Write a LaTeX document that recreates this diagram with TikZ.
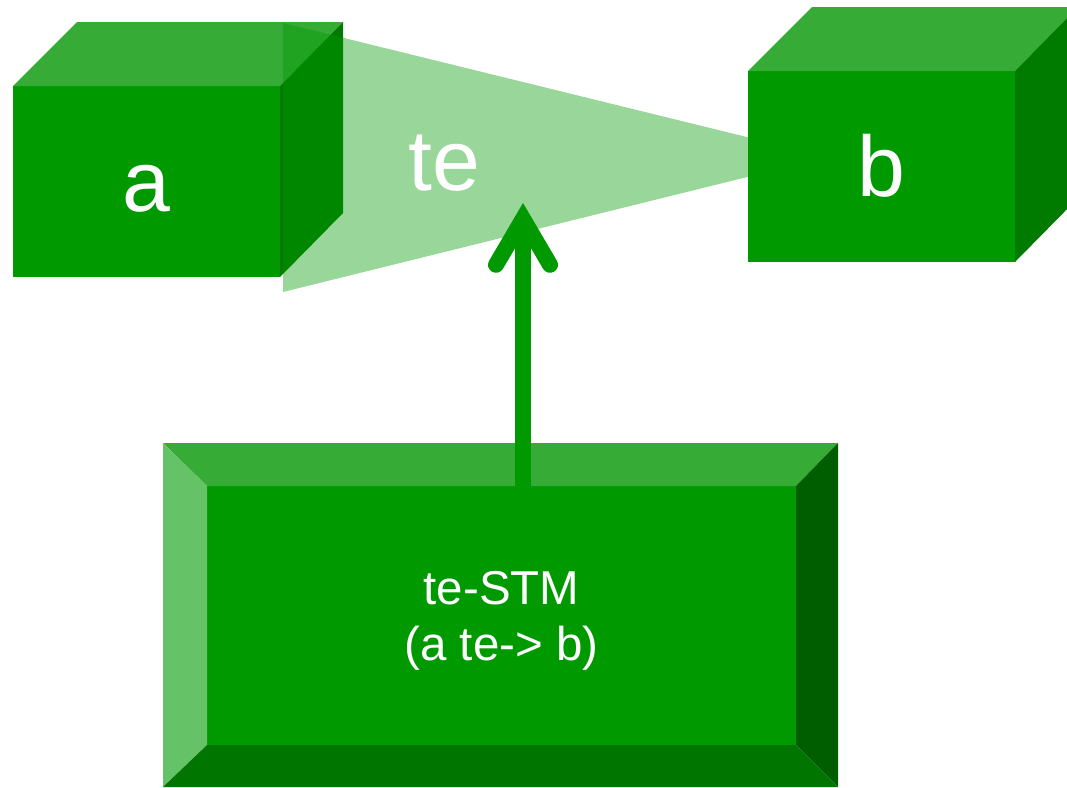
\documentclass[tikz,border=0pt]{standalone}
\usepackage{fontspec}
\setmainfont{Liberation Sans}
\usetikzlibrary{arrows.meta}
\definecolor{front}{HTML}{009900}
\definecolor{toplight}{HTML}{36AB36}
\definecolor{sidedark}{HTML}{007B00}
\definecolor{bevleft}{HTML}{66C266}
\definecolor{bevright}{HTML}{005E00}
\definecolor{bevbottom}{HTML}{007500}

\begin{document}
\begin{tikzpicture}[x=1pt,y=-1pt,
  face/.style={fill=front,text=white,inner sep=0pt,outer sep=0pt},
  cube/.style={face,minimum width=267pt,minimum height=191pt,
    font=\fontsize{86}{100}\selectfont,text height=60pt,text depth=0pt}]
  \useasboundingbox (0,0) rectangle (1067,787);
  \clip (0,0) rectangle (1067,787);
  \node[cube] (a) at (146.5,181.5) {a};
  \fill[toplight] (a.north west) -- ++(64,-64) -- ++(266,0) -- (a.north east) -- cycle;
  \fill[sidedark] (a.north east) -- ++(63,-64) -- ++(0,191) -- (a.south east) -- cycle;
  \fill[front,opacity=.4] (283,23) -- (828,157) -- (283,292) -- cycle;
  \node[text=white,font=\fontsize{86}{100}\selectfont,text height=60pt,text depth=0pt] (te) at (444,160) {te};
  \node[cube] (b) at (881.5,166.5) {b};
  \fill[toplight] (b.north west) -- ++(64,-64) -- ++(266,0) -- (b.north east) -- cycle;
  \fill[sidedark] (b.north east) -- ++(63,-64) -- ++(0,191) -- (b.south east) -- cycle;
  \node[face,minimum width=589pt,minimum height=259pt,align=center,
    font=\fontsize{47.5}{56}\selectfont,text height=99pt,text depth=10pt]
    (stm) at (501.5,615.5) {te-STM\\(a te-> b)};
  \fill[toplight] (stm.north west) -- ++(-44,-43) -- ([shift={(42,-43)}]stm.north east) -- (stm.north east) -- cycle;
  \fill[bevleft] (stm.north west) -- ++(-44,-43) -- ([shift={(-44,42)}]stm.south west) -- (stm.south west) -- cycle;
  \fill[bevright] (stm.north east) -- ++(42,-43) -- ([shift={(42,42)}]stm.south east) -- (stm.south east) -- cycle;
  \fill[bevbottom] (stm.south west) -- ++(-44,42) -- ([shift={(42,42)}]stm.south east) -- (stm.south east) -- cycle;
  \coordinate (tetip) at (523,203);
  \draw[front,line width=16pt,-{Straight Barb[length=46pt,width=54pt,line join=miter,line cap=round]}]
    ([xshift=21.5pt]stm.north) -- (tetip);
\end{tikzpicture}
\end{document}
